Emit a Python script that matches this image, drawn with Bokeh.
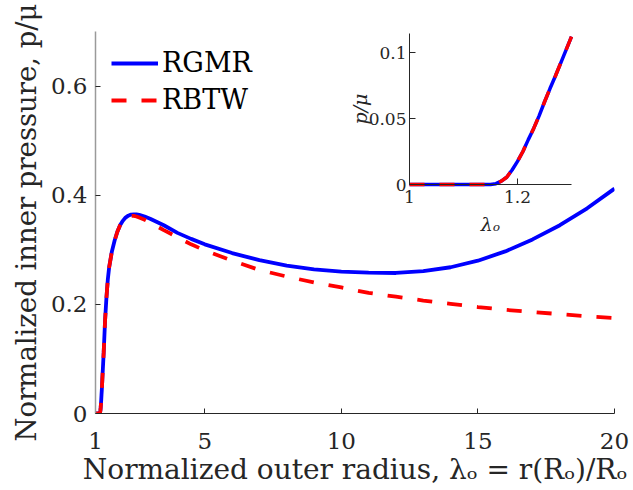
import math
from bokeh.plotting import figure
from bokeh.models import FixedTicker, PrintfTickFormatter, Range1d
from bokeh.core.properties import value
from bokeh.embed import file_html
from bokeh.resources import INLINE

# ---- data ----
lam = [1.0, 1.05, 1.10, 1.14, 1.15, 1.16, 1.17, 1.18, 1.19, 1.20, 1.21, 1.22,
       1.23, 1.24, 1.25, 1.26, 1.27, 1.28, 1.29, 1.30, 1.35, 1.40, 1.45, 1.50,
       1.60, 1.70, 1.80, 1.90, 2.0, 2.1, 2.2, 2.3, 2.4, 2.5, 2.6, 2.8, 3.0,
       3.5, 4.0, 4.5, 5, 6, 7, 8, 9, 10, 11, 12, 13, 14, 15, 16, 17, 18, 19, 20]

p_rgmr = [0, 0, 0, 0, 0, 0.0006, 0.0025, 0.0055, 0.011, 0.0175, 0.025, 0.034,
          0.0425, 0.052, 0.0625, 0.0725, 0.082, 0.092, 0.102, 0.112, 0.17, 0.212, 0.245, 0.268,
          0.297, 0.317, 0.333, 0.345, 0.353, 0.359, 0.3625, 0.3645, 0.365, 0.3648, 0.364, 0.361, 0.357,
          0.345, 0.331, 0.320, 0.310, 0.294, 0.281, 0.271, 0.264, 0.260, 0.258, 0.2575, 0.261, 0.268,
          0.280, 0.297, 0.319, 0.345, 0.376, 0.412]

p_rbtw = [0, 0, 0, 0, 0, 0.0006, 0.0025, 0.0055, 0.011, 0.0175, 0.025, 0.034,
          0.0425, 0.052, 0.0625, 0.0725, 0.082, 0.092, 0.102, 0.112, 0.17, 0.212, 0.245, 0.268,
          0.297, 0.317, 0.333, 0.345, 0.353, 0.358, 0.361, 0.362, 0.362, 0.361, 0.359, 0.355, 0.350,
          0.336, 0.323, 0.310, 0.299, 0.280, 0.263, 0.251, 0.240, 0.231, 0.221, 0.214, 0.207, 0.201,
          0.195, 0.190, 0.186, 0.182, 0.178, 0.175]

series_names = ["RGMR", "RBTW"]
main_x_range = (1, 20)
main_y_range = (0, 0.7)
main_x_ticks = [1, 5, 10, 15, 20]
main_y_ticks = [0, 0.2, 0.4, 0.6]
inset_x_range = (1, 1.3)
inset_y_range = (0, 0.1144)
inset_x_ticks = [1, 1.2]
inset_y_ticks = [0, 0.05, 0.1]
inset_x_title = "λₒ"
inset_y_title = "p/μ"

TXT = "#262626"
FONT = "DejaVu Serif"

# ---- layout geometry (screen pixels) ----
W, H = 630, 488
FRAME_L, FRAME_R, FRAME_T, FRAME_B = 95, 614, 31, 413
INS_L, INS_R, INS_T, INS_B = 409, 571, 33, 184


def style_axis(ax, ticks, size, tick_in, label_size, label_standoff, major_standoff):
    ax.ticker = FixedTicker(ticks=ticks)
    ax.formatter = PrintfTickFormatter(format="%g")
    ax.minor_tick_line_color = None
    ax.major_tick_in = tick_in
    ax.major_tick_out = 0
    ax.major_tick_line_color = TXT
    ax.axis_line_color = TXT
    ax.major_label_text_font = FONT
    ax.major_label_text_font_size = size
    ax.major_label_text_color = TXT
    ax.major_label_standoff = major_standoff
    ax.axis_label_text_font = FONT
    ax.axis_label_text_font_size = label_size
    ax.axis_label_text_color = TXT
    ax.axis_label_text_font_style = "normal"
    ax.axis_label_standoff = label_standoff


# ---- main figure ----
p = figure(width=W, height=H, x_range=Range1d(*main_x_range), y_range=Range1d(*main_y_range),
           output_backend="svg", toolbar_location=None,
           min_border_left=FRAME_L, min_border_right=W - FRAME_R,
           min_border_top=FRAME_T, min_border_bottom=H - FRAME_B)
p.outline_line_color = None
p.grid.visible = False
p.background_fill_color = "white"
p.border_fill_color = "white"

p.line(lam, p_rgmr, line_color="#0000ff", line_width=3.8, legend_label=series_names[0])
p.line(lam, p_rbtw, line_color="#ff0000", line_width=3.8, line_dash="15 15",
       legend_label=series_names[1])

p.xaxis.axis_label = "Normalized outer radius, λₒ = r(Rₒ)/Rₒ"
p.yaxis.axis_label = "Normalized inner pressure, p/μ"
style_axis(p.xaxis[0], main_x_ticks, "23px", 5, "28px", 1, 19)
style_axis(p.yaxis[0], main_y_ticks, "23px", 5, "27.5px", 6, 8)
p.yaxis.axis_line_color = "#9a9a9a"
p.yaxis.axis_line_width = 1.5

lg = p.legend[0]
lg.location = "top_left"
lg.margin = 16
lg.padding = 8
lg.border_line_color = None
lg.background_fill_alpha = 0
lg.label_text_font = FONT
lg.label_text_font_size = "27px"
lg.label_text_color = "black"
lg.glyph_width = 47
lg.glyph_height = 30
lg.label_height = 30
lg.spacing = 6
lg.label_standoff = 4

# ---- inset, drawn in its own ranges placed inside the main frame ----
ix0, ix1 = inset_x_range
iy0, iy1 = inset_y_range
sx = (ix1 - ix0) / (INS_R - INS_L)   # data units per pixel
sy = (iy1 - iy0) / (INS_B - INS_T)
p.extra_x_ranges = {"ins": Range1d(ix0 - (INS_L - FRAME_L) * sx, ix1 + (FRAME_R - INS_R) * sx)}
p.extra_y_ranges = {"ins": Range1d(iy0 - (FRAME_B - INS_B) * sy, iy1 + (INS_T - FRAME_T) * sy)}
kw = dict(x_range_name="ins", y_range_name="ins")

sel = [i for i, l in enumerate(lam) if ix0 <= l <= ix1]
lam_in = [lam[i] for i in sel]
p.line(lam_in, [p_rgmr[i] for i in sel], line_color="#0000ff", line_width=3.5, **kw)
p.line(lam_in, [p_rbtw[i] for i in sel], line_color="#ff0000", line_width=3.5,
       line_dash="15 15", **kw)

# inset axis lines
p.segment(x0=[ix0, ix0], y0=[iy0, iy0], x1=[ix1, ix0], y1=[iy0, iy1],
          line_color=TXT, line_width=1, **kw)
# inset ticks (pointing inward, 6 px)
p.segment(x0=inset_x_ticks, y0=[iy0] * len(inset_x_ticks), x1=inset_x_ticks,
          y1=[iy0 + 6 * sy] * len(inset_x_ticks), line_color=TXT, line_width=1, **kw)
p.segment(x0=[ix0] * len(inset_y_ticks), y0=inset_y_ticks, x1=[ix0 + 6 * sx] * len(inset_y_ticks),
          y1=inset_y_ticks, line_color=TXT, line_width=1, **kw)
# inset tick labels
p.text(x=inset_x_ticks, y=[iy0] * len(inset_x_ticks), text=[f"{t:g}" for t in inset_x_ticks],
       y_offset=6, text_align="center", text_baseline="top", text_font=value(FONT),
       text_font_size="17px", text_color=TXT, **kw)
p.text(x=[ix0] * len(inset_y_ticks), y=inset_y_ticks, text=[f"{t:g}" for t in inset_y_ticks],
       x_offset=-3, text_align="right", text_baseline="middle", text_font=value(FONT),
       text_font_size="17px", text_color=TXT, **kw)
# inset axis titles
p.text(x=[(ix0 + ix1) / 2], y=[iy0], text=[inset_x_title], y_offset=39,
       text_align="center", text_baseline="middle", text_font=value(FONT),
       text_font_style="italic", text_font_size="19px", text_color=TXT, **kw)
p.text(x=[ix0], y=[(iy0 + iy1) / 2], text=[inset_y_title], x_offset=-50, angle=math.pi / 2,
       text_align="center", text_baseline="middle", text_font=value(FONT),
       text_font_style="italic", text_font_size="19px", text_color=TXT, **kw)

open("out.html", "w").write(file_html(p, INLINE))
